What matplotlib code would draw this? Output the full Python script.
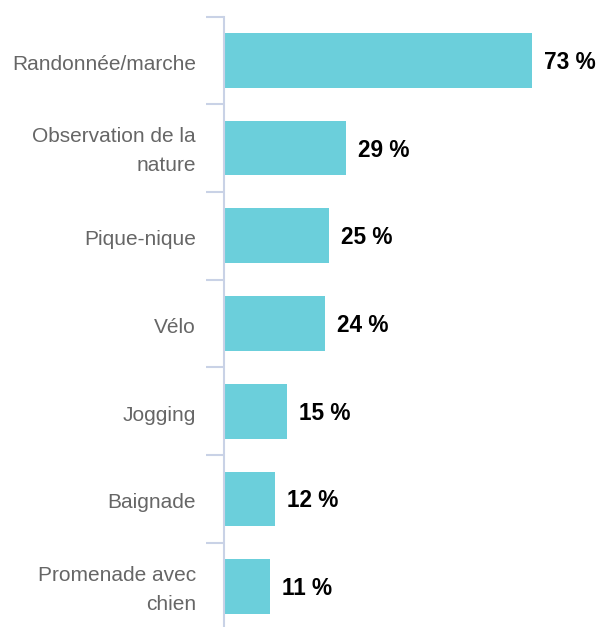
import matplotlib.pyplot as plt
import numpy as np

plt.rcParams['font.family'] = ['Liberation Sans', 'DejaVu Sans']

categories = ['Randonnée/marche', 'Observation de la\nnature', 'Pique-nique', 'Vélo',
              'Jogging', 'Baignade', 'Promenade avec\nchien']
values = [73, 29, 25, 24, 15, 12, 11]
value_labels = ['73 %', '29 %', '25 %', '24 %', '15 %', '12 %', '11 %']

W, H = 602, 627
fig = plt.figure(figsize=(W / 100, H / 100), dpi=100)
left, right, top, bottom = 224, 590, 16.5, 630.5
ax = fig.add_axes([left / W, 1 - bottom / H, (right - left) / W, (bottom - top) / H])

y = np.arange(len(categories))
ax.barh(y, values, height=0.625, color='#6BCFDB', zorder=2)
ax.set_xlim(0, (right - left) / (308 / 73))
ax.set_ylim(len(categories) - 0.5, -0.5)

for yi, v, lab in zip(y, values, value_labels):
    ax.annotate(lab, (v, yi), xytext=(12, -2), textcoords='offset pixels',
                ha='left', va='center', fontsize=16.3, fontweight='bold', color='#000000')

# category labels, left of the axis line
trans = ax.get_yaxis_transform()
for yi, cat in zip(y, categories):
    dy = -3 if '\n' in cat else -4
    ax.annotate(cat, (0, yi), xycoords=trans, xytext=(-28, dy), textcoords='offset pixels',
                ha='right', va='center', multialignment='right', fontsize=15,
                color='#666666', linespacing=1.68)

for s in ['top', 'right', 'bottom']:
    ax.spines[s].set_visible(False)
ax.spines['left'].set_color('#C9D2E6')
ax.spines['left'].set_linewidth(1.5)
ax.set_xticks([])
ax.set_yticks([])
ax.set_yticks(np.arange(-0.5, len(categories) - 0.5), minor=True)
ax.tick_params(axis='y', which='minor', length=13, width=1.5, color='#C9D2E6')

fig.savefig('out.png', dpi=100)
